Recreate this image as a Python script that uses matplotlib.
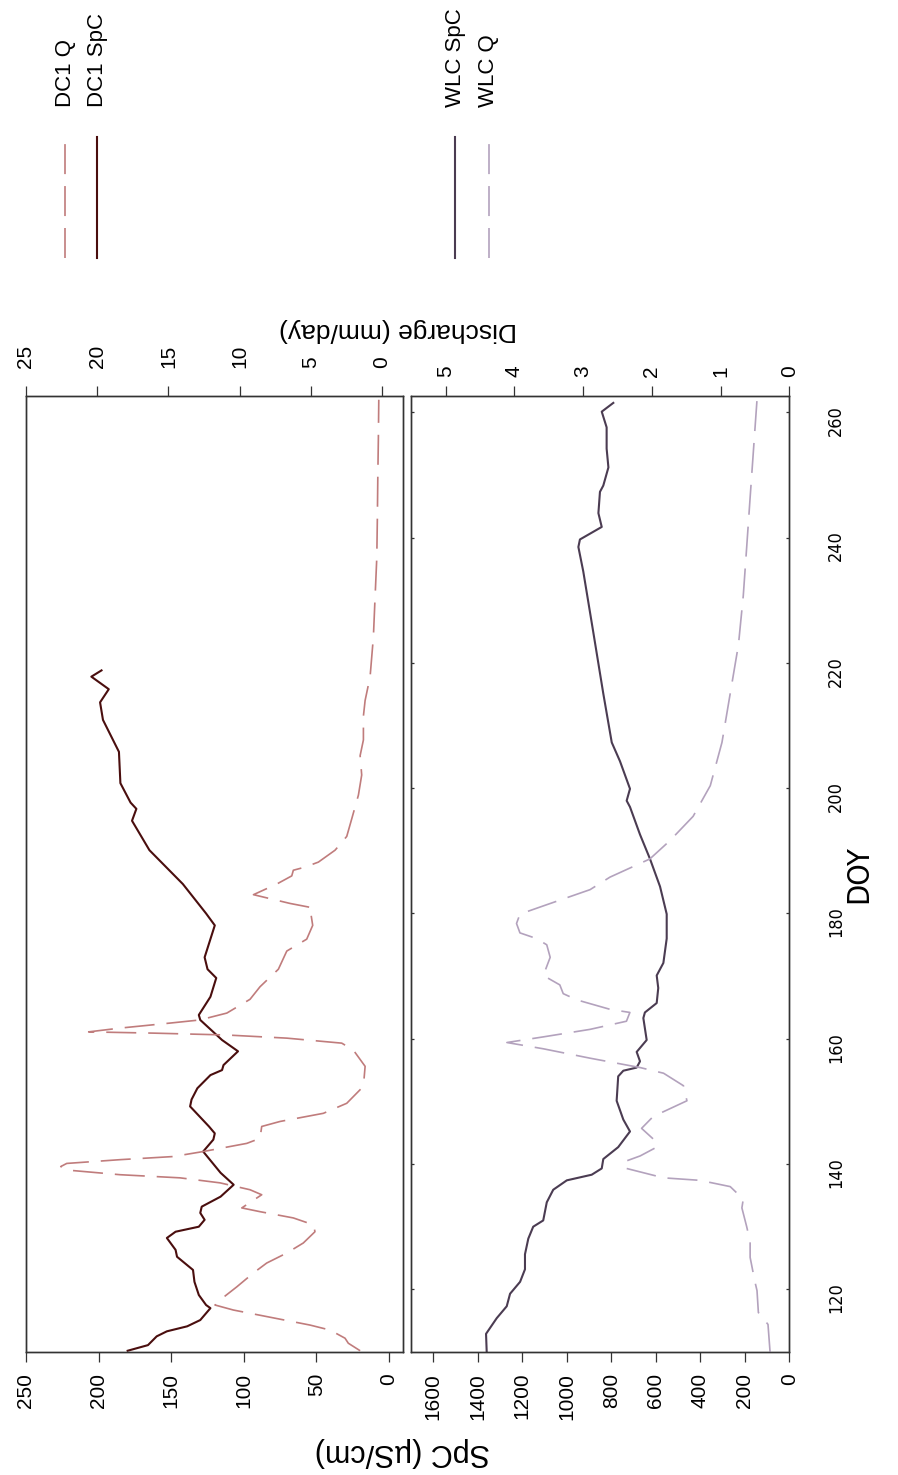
import matplotlib
matplotlib.use('Agg')
import matplotlib.pyplot as plt
from matplotlib.lines import Line2D
from matplotlib import font_manager

plt.rcParams['font.family'] = ['Liberation Sans', 'DejaVu Sans']
plt.rcParams['lines.scale_dashes'] = False

# DC1 specific conductance (uS/cm) and discharge (mm/day) by day of year
dc1_spc_doy = [110.2, 111.1, 112.5, 113.3, 114.1, 115.1, 117.0, 117.5, 119.1, 121.2,
               123.1, 125.2, 126.3, 128.2, 129.2, 130.0, 131.1, 132.2, 133.2, 134.8,
               136.7, 138.6, 142.0, 143.9, 144.9, 146.0, 149.2, 150.3, 152.1, 154.2,
               155.0, 155.8, 158.0, 159.8, 163.0, 163.8, 166.7, 169.7, 171.1, 173.0,
               178.1, 180.0, 184.7, 190.1, 194.8, 196.7, 197.7, 200.8, 205.8, 210.9,
               213.7, 215.8, 217.8, 218.8]
dc1_spc = [180, 166, 160, 153, 139, 130, 123, 126, 131, 134,
           135, 146, 147, 153, 147, 131, 127, 130, 129, 116,
           107, 116, 128, 121, 120, 124, 137, 136, 132, 123,
           115, 114, 104, 115, 130, 131, 123, 119, 125, 127,
           120, 126, 142, 165, 177, 174, 178, 185, 186, 197,
           199, 193, 205, 198]

dc1_q_doy = [110.2, 111.4, 112.2, 113.5, 114.3, 116.7, 117.5, 118.3, 120.4, 122.6,
             124.2, 125.8, 127.4, 129.2, 130.3, 131.4, 132.4, 133.0, 135.1, 135.9,
             137.0, 137.8, 138.3, 139.0, 139.6, 140.1, 140.7, 141.2, 142.0, 143.3,
             144.1, 146.0, 146.8, 148.1, 149.7, 152.4, 155.6, 158.2, 159.3, 160.1,
             160.6, 160.9, 161.1, 161.7, 162.5, 163.0, 164.1, 166.3, 168.3, 171.1,
             174.0, 175.9, 178.1, 180.0, 180.9, 181.6, 183.0, 184.7, 186.0, 186.9,
             187.4, 188.2, 190.1, 192.3, 195.1, 198.9, 202.1, 205.2, 207.7, 211.5,
             214.0, 217.8, 224.1, 230.5, 236.8, 243.1, 249.4, 255.7, 262.0]
dc1_q = [1.54, 2.37, 2.6, 3.65, 5.06, 10.44, 11.73, 11.38, 10.2, 9.04,
         8.1, 6.69, 5.53, 4.71, 4.82, 6.23, 8.57, 9.85, 8.45, 9.27,
         11.38, 14.19, 18.4, 21.9, 22.56, 22.14, 18.4, 14.66, 12.55, 9.5,
         8.57, 8.45, 7.16, 4.12, 2.48, 1.31, 1.19, 2.02, 2.83, 6.69,
         10.9, 16.06, 20.6, 18.4, 14.9, 12.8, 10.9, 9.27, 8.57, 7.28,
         6.69, 5.29, 4.87, 5.0, 4.87, 6.46, 9.03, 7.39, 6.34, 6.23,
         5.41, 4.47, 3.3, 2.48, 2.13, 1.66, 1.43, 1.54, 1.31, 1.31,
         1.19, 0.84, 0.61, 0.49, 0.37, 0.33, 0.30, 0.26, 0.23]

# WLC specific conductance and discharge
wlc_spc_doy = [110.0, 112.9, 115.4, 117.3, 119.3, 121.2, 123.2, 125.6, 128.1, 130.0,
               131.0, 133.9, 135.9, 137.4, 138.3, 139.3, 140.8, 142.7, 145.2, 147.1,
               150.1, 154.0, 154.9, 155.4, 156.4, 157.9, 159.8, 163.3, 164.2, 165.7,
               168.1, 170.1, 172.1, 176.0, 179.9, 184.3, 188.7, 192.6, 197.0, 198.0,
               199.9, 204.3, 207.3, 215.1, 224.9, 234.6, 238.5, 239.7, 241.7, 243.9,
               247.3, 248.3, 251.2, 254.2, 257.6, 260.1, 261.5]
wlc_spc = [1360, 1363, 1315, 1270, 1255, 1210, 1188, 1188, 1173, 1151,
           1106, 1090, 1061, 1000, 888, 843, 836, 769, 716, 746,
           776, 769, 746, 686, 671, 686, 641, 656, 649, 596,
           589, 596, 566, 551, 551, 581, 626, 671, 716, 731,
           716, 761, 798, 836, 881, 926, 948, 941, 843, 858,
           851, 836, 813, 821, 821, 843, 791]

wlc_q_doy = [110.0, 114.4, 116.3, 119.8, 121.2, 125.1, 127.6, 130.0, 133.0, 134.4,
             136.4, 137.4, 137.8, 139.3, 140.3, 141.3, 142.7, 143.7, 145.7, 147.6,
             150.1, 152.5, 154.5, 155.4, 156.9, 158.4, 159.4, 160.3, 161.5, 162.8,
             164.2, 164.7, 166.2, 167.2, 168.6, 170.1, 173.0, 175.0, 176.0, 176.9,
             178.4, 179.9, 181.4, 183.8, 185.8, 188.7, 191.6, 195.5, 200.4, 207.3,
             215.1, 222.9, 230.7, 238.5, 246.4, 254.2, 262.0]
wlc_q = [0.28, 0.31, 0.45, 0.47, 0.50, 0.57, 0.57, 0.62, 0.69, 0.67,
         0.86, 1.30, 1.83, 2.37, 2.42, 2.17, 1.93, 1.95, 2.15, 1.98,
         1.49, 1.54, 1.83, 2.17, 2.90, 3.58, 4.11, 3.58, 2.90, 2.37,
         2.32, 2.61, 3.09, 3.29, 3.34, 3.58, 3.48, 3.53, 3.68, 3.92,
         3.97, 3.92, 3.53, 2.90, 2.61, 2.03, 1.74, 1.40, 1.15, 0.98,
         0.86, 0.74, 0.67, 0.62, 0.57, 0.52, 0.47]

doy_ticks = [120, 140, 160, 180, 200, 220, 240, 260]
dc1_spc_ticks = [0, 50, 100, 150, 200, 250]
dc1_q_ticks = [0, 5, 10, 15, 20, 25]
wlc_spc_ticks = [0, 200, 400, 600, 800, 1000, 1200, 1400, 1600]
wlc_q_ticks = [0, 1, 2, 3, 4, 5]

# colours
c_dc1_spc = '#4a0e0e'
c_dc1_q = '#c07c7c'
c_wlc_spc = '#4b3c52'
c_wlc_q = '#b3a2bd'
c_axis = '#333333'
DASH = (21.6, 8.6)

names = {f.name for f in font_manager.fontManager.ttflist}
if 'Liberation Sans Narrow' in names:
    narrow = dict(family='Liberation Sans Narrow')
else:
    narrow = dict(family='DejaVu Sans', stretch='condensed')

W, H = 898, 1475
fig = plt.figure(figsize=(W / 100, H / 100), dpi=100)


def px_box(x0, y0, x1, y1):
    return [x0 / W, 1 - y1 / H, (x1 - x0) / W, (y1 - y0) / H]


def style_axes(ax):
    for s in ax.spines.values():
        s.set_color(c_axis)
        s.set_linewidth(1.0)


def panel(box, spc_doy, spc, q_doy, q, c_spc, c_q, spc_lim, q_lim,
          spc_ticks, q_ticks, top_pad):
    ax = fig.add_axes(px_box(*box))
    ax.plot(spc, spc_doy, color=c_spc, lw=1.5, solid_joinstyle='round')
    ax.set_xlim(*spc_lim)
    ax.set_ylim(110.0, 262.6)
    ax.set_xticks(spc_ticks)
    ax.tick_params(axis='x', direction='out', length=7, width=0.9, color=c_axis,
                   labelsize=15, labelrotation=90, pad=8)
    ax.tick_params(axis='y', left=False, labelleft=False)
    style_axes(ax)

    tw = ax.twiny()
    tw.plot(q, q_doy, color=c_q, lw=1.2, dashes=DASH)
    tw.set_xlim(*q_lim)
    tw.set_xticks(q_ticks)
    tw.tick_params(axis='x', direction='out', length=7, width=0.9, color=c_axis,
                   labelsize=15, labelrotation=90, pad=top_pad)
    style_axes(tw)
    return ax, tw


ax1, tw1 = panel((26, 396, 403, 1352), dc1_spc_doy, dc1_spc, dc1_q_doy, dc1_q,
                 c_dc1_spc, c_dc1_q, (250, -9.6), (25, -1.47),
                 dc1_spc_ticks, dc1_q_ticks, 13.5)

ax2, tw2 = panel((410.7, 396, 789.3, 1352), wlc_spc_doy, wlc_spc, wlc_q_doy, wlc_q,
                 c_wlc_spc, c_wlc_q, (1701.6, 0), (5.51, 0),
                 wlc_spc_ticks, wlc_q_ticks, 7)

# DOY axis on the right side of the WLC panel, short inward ticks on both sides
ax2.yaxis.tick_right()
ax2.set_yticks(doy_ticks, [str(t) for t in doy_ticks], rotation=90,
               fontsize=13, **narrow)
ax2.tick_params(axis='y', right=True, left=True, labelright=True, labelleft=False,
                direction='in', length=2.5, width=0.9, color=c_axis, pad=27)

# axis titles
fig.text(402 / W, 1 - 1452 / H, 'SpC (µS/cm)', rotation=180,
         ha='center', va='center', fontsize=22)
fig.text(398 / W, 1 - 330 / H, 'Discharge (mm/day)', rotation=180,
         ha='center', va='center', fontsize=19)
fig.text(859 / W, 1 - 874 / H, 'DOY', rotation=90,
         ha='center', va='center', fontsize=22, **narrow)


# legend (drawn vertically, as in the rotated original)
def legend_entry(x, color, label, dashed, lw):
    kw = dict(dashes=DASH) if dashed else {}
    fig.add_artist(Line2D([x / W, x / W], [1 - 258.3 / H, 1 - 136.7 / H],
                          transform=fig.transFigure, color=color, lw=lw, **kw))
    fig.text(x / W, 1 - 106.7 / H, label, rotation=90, ha='center', va='bottom',
             fontsize=16)


legend_entry(65, c_dc1_q, 'DC1 Q', True, 1.2)
legend_entry(97, c_dc1_spc, 'DC1 SpC', False, 1.5)
legend_entry(455.3, c_wlc_spc, 'WLC SpC', False, 1.5)
legend_entry(488.7, c_wlc_q, 'WLC Q', True, 1.2)

fig.savefig('out.png', dpi=100, facecolor='white')
